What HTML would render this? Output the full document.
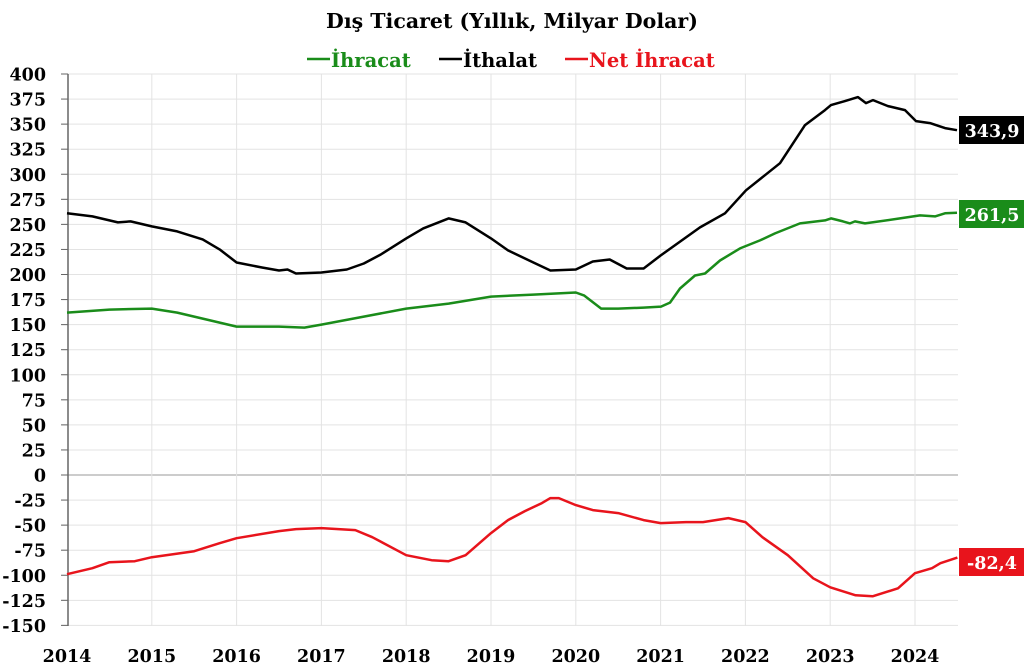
<!DOCTYPE html>
<html><head><meta charset="utf-8"><style>
body{margin:0;background:#fff}
svg{display:block;font-family:"DejaVu Serif","Liberation Serif",serif;font-weight:bold}
</style></head><body>
<svg id="s" width="1024" height="668" viewBox="0 0 1024 668" xmlns="http://www.w3.org/2000/svg">
<text x="512" y="28" text-anchor="middle" font-size="20.5">Dış Ticaret (Yıllık, Milyar Dolar)</text>
<line x1="307" y1="59" x2="330" y2="59" stroke="#1a8c1a" stroke-width="2.5"/>
<text x="331" y="67" font-size="19.5" fill="#1a8c1a">İhracat</text>
<line x1="439" y1="59" x2="462" y2="59" stroke="#000" stroke-width="2.5"/>
<text x="463" y="67" font-size="19.5">İthalat</text>
<line x1="565" y1="59" x2="588" y2="59" stroke="#e8141c" stroke-width="2.5"/>
<text x="589" y="67" font-size="19.5" fill="#e8141c">Net İhracat</text>
<g id="g"></g>
<rect x="959" y="116" width="65" height="28" fill="#000"/>
<text x="992" y="137" text-anchor="middle" font-size="17.5" fill="#fff">343,9</text>
<rect x="959" y="200" width="65" height="28" fill="#1a8c1a"/>
<text x="992" y="221" text-anchor="middle" font-size="17.5" fill="#fff">261,5</text>
<rect x="959" y="548" width="65" height="28" fill="#e8141c"/>
<text x="992" y="569" text-anchor="middle" font-size="17.5" fill="#fff">-82,4</text>
</svg>
<script>
const NS="http://www.w3.org/2000/svg",g=document.getElementById('g');
const X=t=>67+(t-2014)*84.8,Y=v=>475-v*1.0025;
const T=x=>2014+(x-67)/84.8;
function el(n,a,txt){const e=document.createElementNS(NS,n);for(const k in a)e.setAttribute(k,a[k]);if(txt!=null)e.textContent=txt;g.appendChild(e);return e;}
for(let v=-150;v<=400;v+=25){el('line',{x1:62,x2:958,y1:Y(v),y2:Y(v),stroke:v==0?'#999':'#e3e3e3','stroke-width':1});
el('line',{x1:61,x2:68,y1:Y(v),y2:Y(v),stroke:'#666'});
el('text',{x:46,y:Y(v)+6.5,'text-anchor':'end','font-size':17.5},v);}
for(let y=2014;y<=2024;y++){if(y>2014)el('line',{x1:X(y),x2:X(y),y1:74,y2:626,stroke:'#e3e3e3'});
el('text',{x:X(y),y:662,'text-anchor':'middle','font-size':17.5},y);}
el('line',{x1:68,x2:68,y1:74,y2:626,stroke:'#666','stroke-width':1.5});
const imp=[[2014,261],[2014.3,258],[2014.5,254],[2014.6,252],[2014.75,253],[2015,248],[2015.3,243],[2015.6,235],[2015.8,225],[2016,212],[2016.3,207],[2016.5,204],[2016.6,205],[2016.7,201],[2017,202],[2017.3,205],[2017.5,211],[2017.7,220],[2018,236],[2018.2,246],[2018.5,256],[2018.7,252],[2019,236],[2019.2,224],[2019.5,212],[2019.7,204],[2020,205],[2020.2,213],[2020.4,215],[2020.6,206],[2020.8,206],[2021,219]]
 .concat([[700,247],[725,261],[746,284],[780,311],[805,349],[825,364],[831,369],[845,373],[858,377],[866,371],[873,374],[888,368],[905,364],[916,353],[930,351],[945,346],[957,343.9]].map(p=>[T(p[0]),p[1]]));
const ex=[[2014,162],[2014.5,165],[2015,166],[2015.3,162],[2015.6,156],[2016,148],[2016.5,148],[2016.8,147],[2017,150],[2017.5,158],[2018,166],[2018.5,171],[2019,178],[2019.5,180],[2020,182],[2020.1,179],[2020.3,166],[2020.5,166],[2020.8,167]]
 .concat([[661,168],[670,172],[680,186],[695,199],[705,201],[720,214],[740,226],[760,234],[775,241],[800,251],[825,254],[831,256],[843,253],[850,251],[855,253],[865,251],[900,256],[920,259],[935,258],[945,261],[957,261.5]].map(p=>[T(p[0]),p[1]]));
const net=[[2014,-99],[2014.3,-93],[2014.5,-87],[2014.8,-86],[2015,-82],[2015.5,-76],[2015.8,-68],[2016,-63],[2016.5,-56],[2016.7,-54],[2017,-53],[2017.4,-55],[2017.6,-62],[2018,-80],[2018.3,-85],[2018.5,-86],[2018.7,-80],[2019,-58],[2019.2,-45],[2019.4,-36],[2019.6,-28],[2019.7,-23],[2019.8,-23],[2020,-30],[2020.2,-35],[2020.5,-38],[2020.8,-45],[2021,-48],[2021.3,-47],[2021.5,-47],[2021.8,-43],[2022,-47],[2022.2,-62],[2022.5,-80],[2022.8,-103],[2023,-112],[2023.3,-120],[2023.5,-121],[2023.8,-113],[2024,-98],[2024.2,-93],[2024.3,-88],[2024.5,-82.4]];
function line(d,c){el('polyline',{points:d.map(p=>X(p[0]).toFixed(1)+','+Y(p[1]).toFixed(1)).join(' '),fill:'none',stroke:c,'stroke-width':2.5,'stroke-linejoin':'round'});}
line(imp,'#000');line(ex,'#1a8c1a');line(net,'#e8141c');
</script>
</body></html>
